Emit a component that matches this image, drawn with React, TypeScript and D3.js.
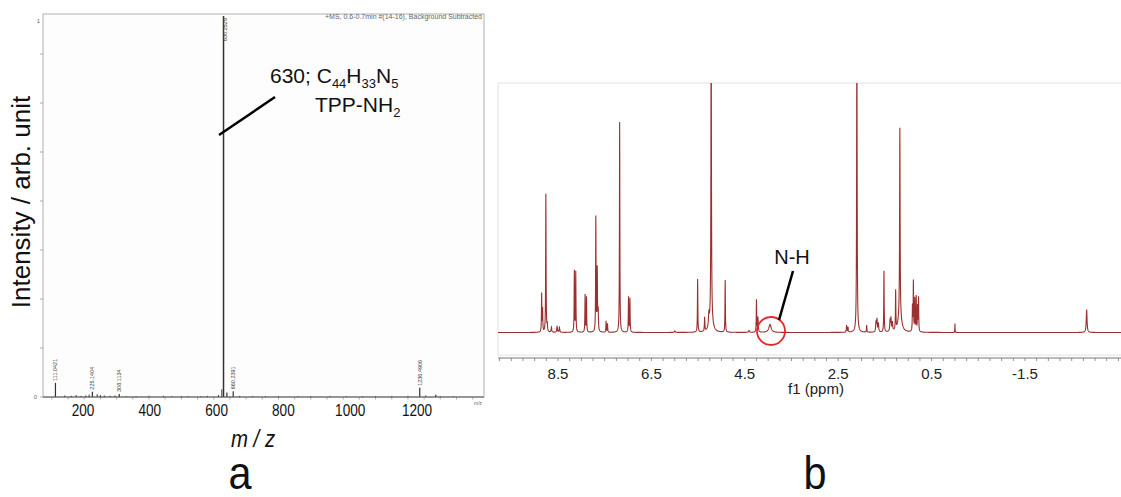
import React from "react";
import * as d3 from "d3";

// ---------- Panel a : mass spectrum ----------
const msPeakMz = [111.0421, 225.1404, 308.1134, 630.2529, 640.7, 660.2391, 1236.4906, 1286];
const msPeakInt = [0.037, 0.014, 0.008, 1.0, 0.012, 0.015, 0.024, 0.006];
const msPeakLabels = ["111.0421", "225.1404", "308.1134", "630.2529", "", "660.2391", "1236.4906", ""];
const msNoiseMz = [140, 160, 175, 190, 205, 215, 240, 250, 262, 280, 295, 330, 360, 400, 445, 470, 500, 520, 560, 580, 615, 625, 680, 720, 760, 800, 860, 900, 960, 1010, 1060, 1100, 1150, 1200, 1255, 1300, 1340];
const msNoiseInt = [0.004, 0.003, 0.005, 0.003, 0.004, 0.006, 0.007, 0.005, 0.004, 0.003, 0.004, 0.002, 0.002, 0.003, 0.003, 0.002, 0.002, 0.002, 0.002, 0.003, 0.005, 0.02, 0.003, 0.002, 0.002, 0.002, 0.002, 0.002, 0.002, 0.002, 0.002, 0.002, 0.002, 0.003, 0.004, 0.002, 0.002];
const msTickLabels = [200, 400, 600, 800, 1000, 1200];
const msMinorTicks = d3.range(100, 1401, 50);
const msYTicks = [0, 1, 2, 3, 4, 5, 6, 7];

// ---------- Panel b : 1H NMR ----------
const nmrPpm = [8.85, 8.83, 8.76, 8.73, 8.64, 8.52, 8.47, 8.15, 8.12, 7.92, 7.89, 7.69, 7.66, 7.64, 7.47, 7.44, 7.18, 6.99, 6.96, 6.0, 5.51, 5.36, 5.27, 5.22, 5.22, 4.92, 4.41, 4.25, 4.22, 3.96, 2.32, 2.29, 2.1, 1.89, 1.69, 1.67, 1.64, 1.52, 1.39, 1.37, 1.34, 1.27, 1.18, 1.18, 0.91, 0.89, 0.86, 0.83, 0.8, 0.78, 0.0, -2.82];
const nmrHeight = [0.153, 0.09, 0.554, 0.03, 0.02, 0.025, 0.02, 0.245, 0.24, 0.15, 0.14, 0.458, 0.25, 0.08, 0.045, 0.035, 0.843, 0.141, 0.135, 0.006, 0.213, 0.056, 0.05, 1.3, 0.05, 0.209, 0.008, 0.129, 0.06, 0.032, 0.028, 0.02, 1.3, 0.028, 0.04, 0.05, 0.035, 0.245, 0.04, 0.052, 0.035, 0.157, 0.75, 0.07, 0.1, 0.2, 0.13, 0.14, 0.1, 0.136, 0.036, 0.092];
const nmrWidth = [0.005, 0.005, 0.005, 0.006, 0.008, 0.008, 0.008, 0.005, 0.005, 0.005, 0.005, 0.005, 0.006, 0.006, 0.005, 0.005, 0.005, 0.005, 0.005, 0.01, 0.005, 0.006, 0.01, 0.006, 0.04, 0.005, 0.01, 0.005, 0.008, 0.03, 0.006, 0.006, 0.006, 0.005, 0.008, 0.008, 0.008, 0.005, 0.008, 0.008, 0.008, 0.005, 0.006, 0.04, 0.005, 0.005, 0.005, 0.005, 0.005, 0.005, 0.003, 0.01];
const nmrTickLabels = [8.5, 6.5, 4.5, 2.5, 0.5, -1.5];
const nmrMinorTicks = d3.range(-3.5, 9.76, 0.25);

const FONT = "'Liberation Sans', Arial, sans-serif";

export default function App() {
  // scales panel a
  const msX = d3.scaleLinear().domain([0, 1400]).range([19.5, 19.5 + 0.3237 * 1400]);
  const msLabelX = d3.scaleLinear().domain([200, 1200]).range([83, 417]);
  const msY = d3.scaleLinear().domain([0, 1]).range([397, 16]);
  const msYAxis = d3.scaleLinear().domain([0, 8]).range([397, 5]);

  // scales panel b
  const nmrX = d3.scaleLinear().domain([8.5, -1.5]).range([558, 1025]);
  const nmrY = d3.scaleLinear().domain([0, 1]).range([332.5, 83]);

  const xs = d3.range(9.8, -3.7, -0.002).concat(nmrPpm);
  xs.sort((a, b) => b - a);
  const spec = xs.map((p) => {
    let s = 0;
    for (let i = 0; i < nmrPpm.length; i++) {
      const d = (p - nmrPpm[i]) / nmrWidth[i];
      s += nmrHeight[i] / (1 + d * d);
    }
    return [p, s] as [number, number];
  });
  const line = d3
    .line<[number, number]>()
    .x((d) => nmrX(d[0]))
    .y((d) => nmrY(d[1]));

  const nmrL = 498;
  const nmrT = 83;

  return (
    <svg width={1121} height={497} style={{ position: "absolute", left: 0, top: 0, background: "#fff" }} fontFamily={FONT}>
      <rect x={0} y={0} width={1121} height={497} fill="#fff" />
      {/* ---------------- Panel a ---------------- */}
      <g>
        <rect x={43} y={14} width={441} height={383} fill="#fdfdfd" stroke="#b0b0b0" strokeWidth={1} />
        {msYTicks.map((t) => (
          <line key={"yt" + t} x1={40} x2={43} y1={msYAxis(t)} y2={msYAxis(t)} stroke="#999" strokeWidth={0.8} />
        ))}
        <text x={37} y={399} fontSize={6} fill="#666" textAnchor="end">0</text>
        <text x={40} y={23} fontSize={6} fill="#666" textAnchor="end">1</text>
        {msMinorTicks.map((t) => (
          <line key={"mt" + t} x1={msX(t)} x2={msX(t)} y1={397} y2={399.5} stroke="#999" strokeWidth={0.8} />
        ))}
        <text x={482} y={19} fontSize={7} fill="#666" textAnchor="end">+MS, 0.6-0.7min #(14-16), Background Subtracted</text>
        <text x={478} y={405} fontSize={5} fill="#666" textAnchor="middle">m/z</text>
        {msNoiseMz.map((m, i) => (
          <line key={"n" + i} x1={msX(m)} x2={msX(m)} y1={msY(0)} y2={msY(msNoiseInt[i])} stroke="#333" strokeWidth={1} />
        ))}
        {msPeakMz.map((m, i) => (
          <line key={"p" + i} x1={msX(m)} x2={msX(m)} y1={msY(0)} y2={msY(msPeakInt[i])} stroke="#333" strokeWidth={i === 3 ? 1.5 : 1.2} />
        ))}
        {msPeakMz.map((m, i) =>
          msPeakLabels[i] ? (
            <text
              key={"pl" + i}
              transform={`translate(${msX(m) + (i === 3 ? 3 : 2)},${i === 3 ? 18 : msY(msPeakInt[i]) - 2}) rotate(-90)`}
              fontSize={5.5}
              fill="#444"
              textAnchor={i === 3 ? "end" : "start"}
            >
              {msPeakLabels[i]}
            </text>
          ) : null
        )}
        <line x1={43} x2={484} y1={397} y2={397} stroke="#555" strokeWidth={1} />
        {msTickLabels.map((t) => (
          <text key={"tl" + t} transform={`translate(${msLabelX(t)},416) scale(0.8,1)`} fontSize={17} textAnchor="middle" fill="#111">
            {t}
          </text>
        ))}
        {/* annotation */}
        <line x1={275} y1={97} x2={219} y2={135} stroke="#000" strokeWidth={2.5} />
        <text x={270} y={83} fontSize={21} fill="#111">
          630; C<tspan fontSize={13} dy={5}>44</tspan>
          <tspan dy={-5}>H</tspan>
          <tspan fontSize={13} dy={5}>33</tspan>
          <tspan dy={-5}>N</tspan>
          <tspan fontSize={13} dy={5}>5</tspan>
        </text>
        <text x={315} y={112} fontSize={21} fill="#111">
          TPP-NH<tspan fontSize={13} dy={5}>2</tspan>
        </text>
        <text transform="translate(30,202) rotate(-90)" fontSize={26} textAnchor="middle" fill="#111">
          Intensity / arb. unit
        </text>
        <text transform="translate(253,447) scale(0.85,1)" fontSize={24} fontStyle="italic" textAnchor="middle" fill="#111">
          m / z
        </text>
        <text transform="translate(240,489) scale(0.9,1)" fontSize={46} textAnchor="middle" fill="#111">
          a
        </text>
      </g>

      {/* ---------------- Panel b ---------------- */}
      <g>
        <defs>
          <clipPath id="nmrclip">
            <rect x={nmrL} y={nmrT} width={1121 - nmrL} height={355 - nmrT} />
          </clipPath>
        </defs>
        <rect x={nmrL} y={nmrT} width={1121 - nmrL + 2} height={355 - nmrT} fill="#fff" stroke="#e2e2e2" strokeWidth={1} />
        <path d={line(spec) || ""} fill="none" stroke="#9a3030" strokeWidth={1.1} clipPath="url(#nmrclip)" />
        <line x1={nmrL} x2={1121} y1={358} y2={358} stroke="#777" strokeWidth={1} />
        {nmrMinorTicks.map((t, i) => (
          <line key={"nt" + i} x1={nmrX(t)} x2={nmrX(t)} y1={358} y2={361} stroke="#777" strokeWidth={0.8} />
        ))}
        {nmrTickLabels.map((t) => (
          <text key={"nl" + t} x={nmrX(t)} y={379} fontSize={15} textAnchor="middle" fill="#222">
            {t.toFixed(1)}
          </text>
        ))}
        <text x={816} y={394} fontSize={15} textAnchor="middle" fill="#222">f1 (ppm)</text>
        {/* N-H annotation */}
        <circle cx={771} cy={331} r={14} fill="none" stroke="#e8262a" strokeWidth={1.8} />
        <line x1={793} y1={271} x2={779} y2={320} stroke="#000" strokeWidth={2.5} />
        <text x={792} y={264} fontSize={20} textAnchor="middle" fill="#111">N-H</text>
        <text transform="translate(815,489) scale(0.9,1)" fontSize={46} textAnchor="middle" fill="#111">
          b
        </text>
      </g>
    </svg>
  );
}
